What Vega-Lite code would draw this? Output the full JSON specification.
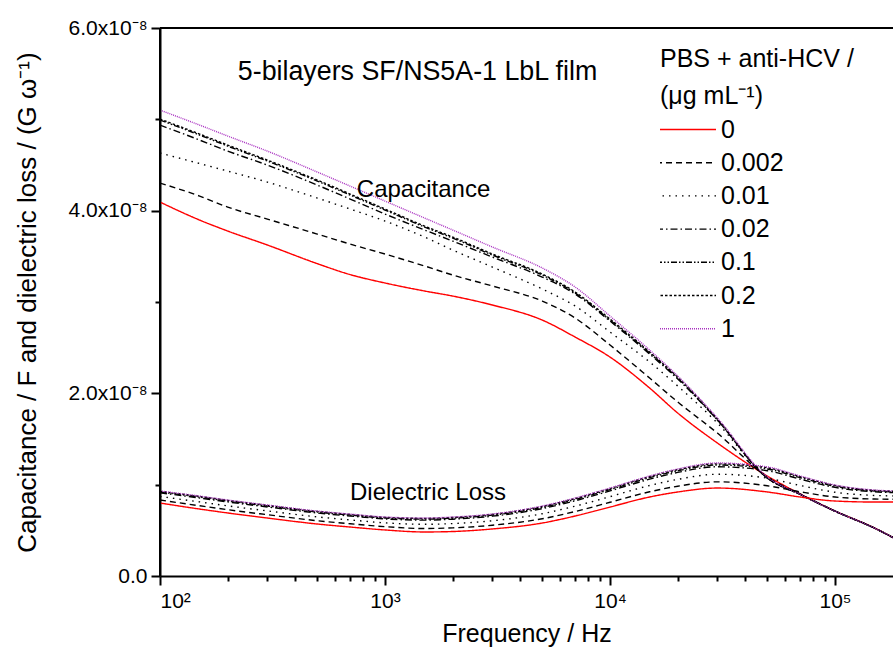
{
"$schema": "https://vega.github.io/schema/vega-lite/v6.json",
"width": 733, "height": 548,
"autosize": {"type": "none"},
"padding": {"left": 160, "top": 28, "right": 0, "bottom": 85},
"background": "white",
"config": {"font": "Liberation Sans", "view": {"stroke": null},
  "axis": {"grid": false, "domainColor": "black", "tickColor": "black", "labelColor": "black", "titleColor": "black", "labelFont": "Liberation Sans", "titleFont": "Liberation Sans", "titleFontWeight": "normal", "domainWidth": 2, "tickWidth": 2}},
"resolve": {"axis": {"x": "independent", "y": "independent"}},
"layer": [
{
"data": {"values": [
{"f":100,"s":"0","t":"C","v":4.094e-8},{"f":150,"s":"0","t":"C","v":3.897e-8},{"f":200,"s":"0","t":"C","v":3.777e-8},{"f":300,"s":"0","t":"C","v":3.624e-8},{"f":500,"s":"0","t":"C","v":3.420e-8},{"f":700,"s":"0","t":"C","v":3.300e-8},{"f":1000,"s":"0","t":"C","v":3.208e-8},{"f":1500,"s":"0","t":"C","v":3.120e-8},{"f":2000,"s":"0","t":"C","v":3.065e-8},{"f":3000,"s":"0","t":"C","v":2.967e-8},{"f":5000,"s":"0","t":"C","v":2.802e-8},{"f":7000,"s":"0","t":"C","v":2.616e-8},{"f":10000,"s":"0","t":"C","v":2.397e-8},{"f":15000,"s":"0","t":"C","v":2.058e-8},{"f":20000,"s":"0","t":"C","v":1.784e-8},{"f":30000,"s":"0","t":"C","v":1.456e-8},{"f":50000,"s":"0","t":"C","v":1.095e-8},{"f":70000,"s":"0","t":"C","v":0.898e-8},{"f":100000,"s":"0","t":"C","v":0.712e-8},{"f":150000,"s":"0","t":"C","v":0.525e-8},{"f":190000,"s":"0","t":"C","v":0.394e-8},
{"f":100,"s":"0.002","t":"C","v":4.302e-8},{"f":150,"s":"0.002","t":"C","v":4.160e-8},{"f":200,"s":"0.002","t":"C","v":4.039e-8},{"f":300,"s":"0.002","t":"C","v":3.908e-8},{"f":500,"s":"0.002","t":"C","v":3.744e-8},{"f":700,"s":"0.002","t":"C","v":3.634e-8},{"f":1000,"s":"0.002","t":"C","v":3.525e-8},{"f":1500,"s":"0.002","t":"C","v":3.394e-8},{"f":2000,"s":"0.002","t":"C","v":3.295e-8},{"f":3000,"s":"0.002","t":"C","v":3.175e-8},{"f":5000,"s":"0.002","t":"C","v":3.010e-8},{"f":7000,"s":"0.002","t":"C","v":2.824e-8},{"f":10000,"s":"0.002","t":"C","v":2.529e-8},{"f":15000,"s":"0.002","t":"C","v":2.167e-8},{"f":20000,"s":"0.002","t":"C","v":1.905e-8},{"f":30000,"s":"0.002","t":"C","v":1.565e-8},{"f":50000,"s":"0.002","t":"C","v":1.084e-8},{"f":70000,"s":"0.002","t":"C","v":0.898e-8},{"f":100000,"s":"0.002","t":"C","v":0.712e-8},{"f":150000,"s":"0.002","t":"C","v":0.525e-8},{"f":190000,"s":"0.002","t":"C","v":0.394e-8},
{"f":100,"s":"0.01","t":"C","v":4.631e-8},{"f":150,"s":"0.01","t":"C","v":4.516e-8},{"f":200,"s":"0.01","t":"C","v":4.433e-8},{"f":300,"s":"0.01","t":"C","v":4.313e-8},{"f":500,"s":"0.01","t":"C","v":4.138e-8},{"f":700,"s":"0.01","t":"C","v":4.018e-8},{"f":1000,"s":"0.01","t":"C","v":3.886e-8},{"f":1500,"s":"0.01","t":"C","v":3.711e-8},{"f":2000,"s":"0.01","t":"C","v":3.569e-8},{"f":3000,"s":"0.01","t":"C","v":3.383e-8},{"f":5000,"s":"0.01","t":"C","v":3.142e-8},{"f":7000,"s":"0.01","t":"C","v":2.956e-8},{"f":10000,"s":"0.01","t":"C","v":2.671e-8},{"f":15000,"s":"0.01","t":"C","v":2.343e-8},{"f":20000,"s":"0.01","t":"C","v":2.080e-8},{"f":30000,"s":"0.01","t":"C","v":1.675e-8},{"f":50000,"s":"0.01","t":"C","v":1.073e-8},{"f":70000,"s":"0.01","t":"C","v":0.895e-8},{"f":100000,"s":"0.01","t":"C","v":0.710e-8},{"f":150000,"s":"0.01","t":"C","v":0.524e-8},{"f":190000,"s":"0.01","t":"C","v":0.394e-8},
{"f":100,"s":"0.02","t":"C","v":4.937e-8},{"f":150,"s":"0.02","t":"C","v":4.773e-8},{"f":200,"s":"0.02","t":"C","v":4.652e-8},{"f":300,"s":"0.02","t":"C","v":4.499e-8},{"f":500,"s":"0.02","t":"C","v":4.280e-8},{"f":700,"s":"0.02","t":"C","v":4.127e-8},{"f":1000,"s":"0.02","t":"C","v":3.963e-8},{"f":1500,"s":"0.02","t":"C","v":3.788e-8},{"f":2000,"s":"0.02","t":"C","v":3.667e-8},{"f":3000,"s":"0.02","t":"C","v":3.492e-8},{"f":5000,"s":"0.02","t":"C","v":3.273e-8},{"f":7000,"s":"0.02","t":"C","v":3.087e-8},{"f":10000,"s":"0.02","t":"C","v":2.791e-8},{"f":15000,"s":"0.02","t":"C","v":2.430e-8},{"f":20000,"s":"0.02","t":"C","v":2.157e-8},{"f":30000,"s":"0.02","t":"C","v":1.708e-8},{"f":50000,"s":"0.02","t":"C","v":1.073e-8},{"f":70000,"s":"0.02","t":"C","v":0.893e-8},{"f":100000,"s":"0.02","t":"C","v":0.709e-8},{"f":150000,"s":"0.02","t":"C","v":0.523e-8},{"f":190000,"s":"0.02","t":"C","v":0.393e-8},
{"f":100,"s":"0.1","t":"C","v":4.992e-8},{"f":150,"s":"0.1","t":"C","v":4.828e-8},{"f":200,"s":"0.1","t":"C","v":4.707e-8},{"f":300,"s":"0.1","t":"C","v":4.543e-8},{"f":500,"s":"0.1","t":"C","v":4.324e-8},{"f":700,"s":"0.1","t":"C","v":4.171e-8},{"f":1000,"s":"0.1","t":"C","v":4.007e-8},{"f":1500,"s":"0.1","t":"C","v":3.820e-8},{"f":2000,"s":"0.1","t":"C","v":3.700e-8},{"f":3000,"s":"0.1","t":"C","v":3.514e-8},{"f":5000,"s":"0.1","t":"C","v":3.295e-8},{"f":7000,"s":"0.1","t":"C","v":3.098e-8},{"f":10000,"s":"0.1","t":"C","v":2.802e-8},{"f":15000,"s":"0.1","t":"C","v":2.441e-8},{"f":20000,"s":"0.1","t":"C","v":2.167e-8},{"f":30000,"s":"0.1","t":"C","v":1.708e-8},{"f":50000,"s":"0.1","t":"C","v":1.073e-8},{"f":70000,"s":"0.1","t":"C","v":0.893e-8},{"f":100000,"s":"0.1","t":"C","v":0.709e-8},{"f":150000,"s":"0.1","t":"C","v":0.523e-8},{"f":190000,"s":"0.1","t":"C","v":0.393e-8},
{"f":100,"s":"0.2","t":"C","v":5.003e-8},{"f":150,"s":"0.2","t":"C","v":4.839e-8},{"f":200,"s":"0.2","t":"C","v":4.718e-8},{"f":300,"s":"0.2","t":"C","v":4.554e-8},{"f":500,"s":"0.2","t":"C","v":4.335e-8},{"f":700,"s":"0.2","t":"C","v":4.182e-8},{"f":1000,"s":"0.2","t":"C","v":4.018e-8},{"f":1500,"s":"0.2","t":"C","v":3.831e-8},{"f":2000,"s":"0.2","t":"C","v":3.711e-8},{"f":3000,"s":"0.2","t":"C","v":3.525e-8},{"f":5000,"s":"0.2","t":"C","v":3.306e-8},{"f":7000,"s":"0.2","t":"C","v":3.109e-8},{"f":10000,"s":"0.2","t":"C","v":2.813e-8},{"f":15000,"s":"0.2","t":"C","v":2.452e-8},{"f":20000,"s":"0.2","t":"C","v":2.178e-8},{"f":30000,"s":"0.2","t":"C","v":1.719e-8},{"f":50000,"s":"0.2","t":"C","v":1.073e-8},{"f":70000,"s":"0.2","t":"C","v":0.893e-8},{"f":100000,"s":"0.2","t":"C","v":0.709e-8},{"f":150000,"s":"0.2","t":"C","v":0.523e-8},{"f":190000,"s":"0.2","t":"C","v":0.393e-8},
{"f":100,"s":"1","t":"C","v":5.101e-8},{"f":150,"s":"1","t":"C","v":4.937e-8},{"f":200,"s":"1","t":"C","v":4.817e-8},{"f":300,"s":"1","t":"C","v":4.652e-8},{"f":500,"s":"1","t":"C","v":4.423e-8},{"f":700,"s":"1","t":"C","v":4.269e-8},{"f":1000,"s":"1","t":"C","v":4.105e-8},{"f":1500,"s":"1","t":"C","v":3.919e-8},{"f":2000,"s":"1","t":"C","v":3.788e-8},{"f":3000,"s":"1","t":"C","v":3.602e-8},{"f":5000,"s":"1","t":"C","v":3.372e-8},{"f":7000,"s":"1","t":"C","v":3.164e-8},{"f":10000,"s":"1","t":"C","v":2.846e-8},{"f":15000,"s":"1","t":"C","v":2.474e-8},{"f":20000,"s":"1","t":"C","v":2.189e-8},{"f":30000,"s":"1","t":"C","v":1.730e-8},{"f":50000,"s":"1","t":"C","v":1.084e-8},{"f":70000,"s":"1","t":"C","v":0.895e-8},{"f":100000,"s":"1","t":"C","v":0.710e-8},{"f":150000,"s":"1","t":"C","v":0.524e-8},{"f":190000,"s":"1","t":"C","v":0.394e-8},
{"f":100,"s":"0","t":"L","v":0.799e-8},{"f":150,"s":"0","t":"L","v":0.733e-8},{"f":200,"s":"0","t":"L","v":0.690e-8},{"f":300,"s":"0","t":"L","v":0.635e-8},{"f":500,"s":"0","t":"L","v":0.569e-8},{"f":700,"s":"0","t":"L","v":0.536e-8},{"f":1000,"s":"0","t":"L","v":0.504e-8},{"f":1500,"s":"0","t":"L","v":0.482e-8},{"f":2000,"s":"0","t":"L","v":0.487e-8},{"f":3000,"s":"0","t":"L","v":0.515e-8},{"f":5000,"s":"0","t":"L","v":0.580e-8},{"f":7000,"s":"0","t":"L","v":0.657e-8},{"f":10000,"s":"0","t":"L","v":0.755e-8},{"f":15000,"s":"0","t":"L","v":0.865e-8},{"f":20000,"s":"0","t":"L","v":0.920e-8},{"f":30000,"s":"0","t":"L","v":0.963e-8},{"f":50000,"s":"0","t":"L","v":0.920e-8},{"f":70000,"s":"0","t":"L","v":0.865e-8},{"f":100000,"s":"0","t":"L","v":0.821e-8},{"f":150000,"s":"0","t":"L","v":0.810e-8},{"f":190000,"s":"0","t":"L","v":0.810e-8},
{"f":100,"s":"0.002","t":"L","v":0.832e-8},{"f":150,"s":"0.002","t":"L","v":0.769e-8},{"f":200,"s":"0.002","t":"L","v":0.726e-8},{"f":300,"s":"0.002","t":"L","v":0.671e-8},{"f":500,"s":"0.002","t":"L","v":0.605e-8},{"f":700,"s":"0.002","t":"L","v":0.572e-8},{"f":1000,"s":"0.002","t":"L","v":0.540e-8},{"f":1500,"s":"0.002","t":"L","v":0.520e-8},{"f":2000,"s":"0.002","t":"L","v":0.527e-8},{"f":3000,"s":"0.002","t":"L","v":0.556e-8},{"f":5000,"s":"0.002","t":"L","v":0.627e-8},{"f":7000,"s":"0.002","t":"L","v":0.706e-8},{"f":10000,"s":"0.002","t":"L","v":0.807e-8},{"f":15000,"s":"0.002","t":"L","v":0.922e-8},{"f":20000,"s":"0.002","t":"L","v":0.983e-8},{"f":30000,"s":"0.002","t":"L","v":1.031e-8},{"f":50000,"s":"0.002","t":"L","v":0.988e-8},{"f":70000,"s":"0.002","t":"L","v":0.922e-8},{"f":100000,"s":"0.002","t":"L","v":0.865e-8},{"f":150000,"s":"0.002","t":"L","v":0.843e-8},{"f":190000,"s":"0.002","t":"L","v":0.840e-8},
{"f":100,"s":"0.01","t":"L","v":0.871e-8},{"f":150,"s":"0.01","t":"L","v":0.811e-8},{"f":200,"s":"0.01","t":"L","v":0.768e-8},{"f":300,"s":"0.01","t":"L","v":0.713e-8},{"f":500,"s":"0.01","t":"L","v":0.647e-8},{"f":700,"s":"0.01","t":"L","v":0.614e-8},{"f":1000,"s":"0.01","t":"L","v":0.582e-8},{"f":1500,"s":"0.01","t":"L","v":0.566e-8},{"f":2000,"s":"0.01","t":"L","v":0.574e-8},{"f":3000,"s":"0.01","t":"L","v":0.605e-8},{"f":5000,"s":"0.01","t":"L","v":0.682e-8},{"f":7000,"s":"0.01","t":"L","v":0.765e-8},{"f":10000,"s":"0.01","t":"L","v":0.869e-8},{"f":15000,"s":"0.01","t":"L","v":0.991e-8},{"f":20000,"s":"0.01","t":"L","v":1.058e-8},{"f":30000,"s":"0.01","t":"L","v":1.114e-8},{"f":50000,"s":"0.01","t":"L","v":1.071e-8},{"f":70000,"s":"0.01","t":"L","v":0.991e-8},{"f":100000,"s":"0.01","t":"L","v":0.917e-8},{"f":150000,"s":"0.01","t":"L","v":0.882e-8},{"f":190000,"s":"0.01","t":"L","v":0.876e-8},
{"f":100,"s":"0.02","t":"L","v":0.911e-8},{"f":150,"s":"0.02","t":"L","v":0.854e-8},{"f":200,"s":"0.02","t":"L","v":0.811e-8},{"f":300,"s":"0.02","t":"L","v":0.756e-8},{"f":500,"s":"0.02","t":"L","v":0.690e-8},{"f":700,"s":"0.02","t":"L","v":0.657e-8},{"f":1000,"s":"0.02","t":"L","v":0.625e-8},{"f":1500,"s":"0.02","t":"L","v":0.612e-8},{"f":2000,"s":"0.02","t":"L","v":0.622e-8},{"f":3000,"s":"0.02","t":"L","v":0.655e-8},{"f":5000,"s":"0.02","t":"L","v":0.738e-8},{"f":7000,"s":"0.02","t":"L","v":0.824e-8},{"f":10000,"s":"0.02","t":"L","v":0.932e-8},{"f":15000,"s":"0.02","t":"L","v":1.060e-8},{"f":20000,"s":"0.02","t":"L","v":1.134e-8},{"f":30000,"s":"0.02","t":"L","v":1.196e-8},{"f":50000,"s":"0.02","t":"L","v":1.153e-8},{"f":70000,"s":"0.02","t":"L","v":1.060e-8},{"f":100000,"s":"0.02","t":"L","v":0.970e-8},{"f":150000,"s":"0.02","t":"L","v":0.922e-8},{"f":190000,"s":"0.02","t":"L","v":0.912e-8},
{"f":100,"s":"0.1","t":"L","v":0.920e-8},{"f":150,"s":"0.1","t":"L","v":0.864e-8},{"f":200,"s":"0.1","t":"L","v":0.821e-8},{"f":300,"s":"0.1","t":"L","v":0.766e-8},{"f":500,"s":"0.1","t":"L","v":0.700e-8},{"f":700,"s":"0.1","t":"L","v":0.667e-8},{"f":1000,"s":"0.1","t":"L","v":0.635e-8},{"f":1500,"s":"0.1","t":"L","v":0.623e-8},{"f":2000,"s":"0.1","t":"L","v":0.633e-8},{"f":3000,"s":"0.1","t":"L","v":0.666e-8},{"f":5000,"s":"0.1","t":"L","v":0.751e-8},{"f":7000,"s":"0.1","t":"L","v":0.838e-8},{"f":10000,"s":"0.1","t":"L","v":0.946e-8},{"f":15000,"s":"0.1","t":"L","v":1.077e-8},{"f":20000,"s":"0.1","t":"L","v":1.152e-8},{"f":30000,"s":"0.1","t":"L","v":1.215e-8},{"f":50000,"s":"0.1","t":"L","v":1.172e-8},{"f":70000,"s":"0.1","t":"L","v":1.077e-8},{"f":100000,"s":"0.1","t":"L","v":0.982e-8},{"f":150000,"s":"0.1","t":"L","v":0.931e-8},{"f":190000,"s":"0.1","t":"L","v":0.921e-8},
{"f":100,"s":"0.2","t":"L","v":0.926e-8},{"f":150,"s":"0.2","t":"L","v":0.871e-8},{"f":200,"s":"0.2","t":"L","v":0.828e-8},{"f":300,"s":"0.2","t":"L","v":0.773e-8},{"f":500,"s":"0.2","t":"L","v":0.707e-8},{"f":700,"s":"0.2","t":"L","v":0.674e-8},{"f":1000,"s":"0.2","t":"L","v":0.642e-8},{"f":1500,"s":"0.2","t":"L","v":0.631e-8},{"f":2000,"s":"0.2","t":"L","v":0.641e-8},{"f":3000,"s":"0.2","t":"L","v":0.674e-8},{"f":5000,"s":"0.2","t":"L","v":0.761e-8},{"f":7000,"s":"0.2","t":"L","v":0.848e-8},{"f":10000,"s":"0.2","t":"L","v":0.957e-8},{"f":15000,"s":"0.2","t":"L","v":1.088e-8},{"f":20000,"s":"0.2","t":"L","v":1.164e-8},{"f":30000,"s":"0.2","t":"L","v":1.228e-8},{"f":50000,"s":"0.2","t":"L","v":1.185e-8},{"f":70000,"s":"0.2","t":"L","v":1.088e-8},{"f":100000,"s":"0.2","t":"L","v":0.991e-8},{"f":150000,"s":"0.2","t":"L","v":0.937e-8},{"f":190000,"s":"0.2","t":"L","v":0.927e-8},
{"f":100,"s":"1","t":"L","v":0.930e-8},{"f":150,"s":"1","t":"L","v":0.875e-8},{"f":200,"s":"1","t":"L","v":0.832e-8},{"f":300,"s":"1","t":"L","v":0.777e-8},{"f":500,"s":"1","t":"L","v":0.711e-8},{"f":700,"s":"1","t":"L","v":0.678e-8},{"f":1000,"s":"1","t":"L","v":0.646e-8},{"f":1500,"s":"1","t":"L","v":0.635e-8},{"f":2000,"s":"1","t":"L","v":0.646e-8},{"f":3000,"s":"1","t":"L","v":0.679e-8},{"f":5000,"s":"1","t":"L","v":0.766e-8},{"f":7000,"s":"1","t":"L","v":0.854e-8},{"f":10000,"s":"1","t":"L","v":0.963e-8},{"f":15000,"s":"1","t":"L","v":1.095e-8},{"f":20000,"s":"1","t":"L","v":1.172e-8},{"f":30000,"s":"1","t":"L","v":1.237e-8},{"f":50000,"s":"1","t":"L","v":1.194e-8},{"f":70000,"s":"1","t":"L","v":1.095e-8},{"f":100000,"s":"1","t":"L","v":0.996e-8},{"f":150000,"s":"1","t":"L","v":0.941e-8},{"f":190000,"s":"1","t":"L","v":0.930e-8}
]},
"mark": {"type": "line", "clip": true, "strokeWidth": 1.4, "interpolate": "monotone"},
"encoding": {
  "x": {"field": "f", "type": "quantitative", "scale": {"type": "log", "domain": [100, 181000], "nice": false},
    "axis": {"orient": "bottom", "values": [100, 1000, 10000, 100000], "labelExpr": "datum.value == 100 ? '10²' : datum.value == 1000 ? '10³' : datum.value == 10000 ? '10⁴' : '10⁵'", "labelFontSize": 21, "tickSize": 9, "labelPadding": 5, "title": "Frequency / Hz", "titleFontSize": 25, "titlePadding": 10}},
  "y": {"field": "v", "type": "quantitative", "scale": {"domain": [0, 6e-8], "nice": false, "zero": false},
    "axis": {"orient": "left", "values": [0, 2e-8, 4e-8, 6e-8], "labelExpr": "datum.value == 0 ? '0.0' : format(datum.value * 1e8, '.1f') + 'x10⁻⁸'", "labelFontSize": 21, "tickSize": 9, "labelPadding": 4, "title": "Capacitance / F and dielectric loss / (G ω⁻¹)", "titleFontSize": 26, "titlePadding": 28}},
  "color": {"field": "s", "type": "nominal",
    "scale": {"domain": ["0", "0.002", "0.01", "0.02", "0.1", "0.2", "1"], "range": ["#ff0000", "#000000", "#000000", "#000000", "#000000", "#000000", "#a830c0"]},
    "legend": {"orient": "none", "legendX": 500, "legendY": 19, "title": ["PBS + anti-HCV /", "(μg mL⁻¹)"], "titleFontSize": 25, "titleFontWeight": "normal", "titleColor": "black", "titleLineHeight": 37, "titlePadding": 8, "titleLimit": 500, "labelLimit": 300, "labelFontSize": 25, "labelColor": "black", "symbolType": "stroke", "symbolSize": 3600, "symbolStrokeWidth": 1.4, "symbolOffset": -5, "clipHeight": 25, "rowPadding": 7.2, "labelOffset": 4, "padding": 0}},
  "strokeDash": {"field": "s", "type": "nominal",
    "scale": {"domain": ["0", "0.002", "0.01", "0.02", "0.1", "0.2", "1"], "range": [[1, 0], [6, 4], [1.5, 5], [7, 3, 1.5, 3], [6, 2, 1.5, 2, 1.5, 2], [2.5, 2], [1, 1]]},
    "legend": {"orient": "none", "legendX": 500, "legendY": 19, "title": ["PBS + anti-HCV /", "(μg mL⁻¹)"], "titleFontSize": 25, "titleFontWeight": "normal", "titleColor": "black", "titleLineHeight": 37, "titlePadding": 8, "titleLimit": 500, "labelLimit": 300, "labelFontSize": 25, "labelColor": "black", "symbolType": "stroke", "symbolSize": 3600, "symbolStrokeWidth": 1.4, "symbolOffset": -5, "clipHeight": 25, "rowPadding": 7.2, "labelOffset": 4, "padding": 0}},
  "detail": {"field": "t", "type": "nominal"}
}
},
{
"data": {"values": [{"f": 1395, "v": 5.517e-8, "label": "5-bilayers SF/NS5A-1 LbL film"}]},
"mark": {"type": "text", "fontSize": 26.8, "color": "black", "align": "center", "baseline": "middle"},
"encoding": {
  "x": {"field": "f", "type": "quantitative", "scale": {"type": "log", "domain": [100, 181000], "nice": false},
    "axis": {"orient": "bottom", "values": [200, 300, 400, 500, 600, 700, 800, 900, 2000, 3000, 4000, 5000, 6000, 7000, 8000, 9000, 20000, 30000, 40000, 50000, 60000, 70000, 80000, 90000], "labels": false, "tickSize": 5, "domain": false, "title": null}},
  "y": {"field": "v", "type": "quantitative", "scale": {"domain": [0, 6e-8], "nice": false, "zero": false},
    "axis": {"orient": "left", "values": [1e-8, 3e-8, 5e-8], "labels": false, "tickSize": 5, "domain": false, "title": null}},
  "text": {"field": "label"}
}
},
{
"data": {"values": [{"f": 1483, "v": 4.225e-8, "label": "Capacitance"}, {"f": 1553, "v": 0.909e-8, "label": "Dielectric Loss"}]},
"mark": {"type": "text", "fontSize": 24, "color": "black", "align": "center", "baseline": "middle"},
"encoding": {
  "x": {"field": "f", "type": "quantitative", "scale": {"type": "log", "domain": [100, 181000], "nice": false}, "axis": null},
  "y": {"field": "v", "type": "quantitative", "scale": {"domain": [0, 6e-8], "nice": false, "zero": false}, "axis": null},
  "text": {"field": "label"}
}
},
{
"data": {"values": [{}]},
"mark": {"type": "rule", "color": "black", "strokeWidth": 2},
"encoding": {
  "x": {"datum": 100, "type": "quantitative", "scale": {"type": "log", "domain": [100, 181000], "nice": false}, "axis": null},
  "y": {"datum": 0, "type": "quantitative", "scale": {"domain": [0, 6e-8], "nice": false, "zero": false}, "axis": null},
  "y2": {"datum": 6e-8}
}
},
{
"data": {"values": [{}]},
"mark": {"type": "rule", "color": "black", "strokeWidth": 2},
"encoding": {
  "x": {"datum": 100, "type": "quantitative", "scale": {"type": "log", "domain": [100, 181000], "nice": false}, "axis": null},
  "x2": {"datum": 181000},
  "y": {"datum": 6e-8, "type": "quantitative", "scale": {"domain": [0, 6e-8], "nice": false, "zero": false}, "axis": null}
}
}
]
}
